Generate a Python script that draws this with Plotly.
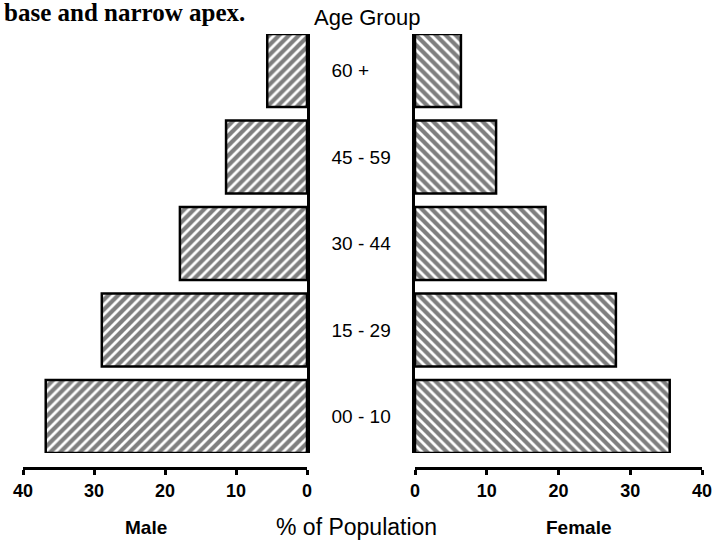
import plotly.graph_objects as go

age_groups = ["00 - 10", "15 - 29", "30 - 44", "45 - 59", "60 +"]
male = [36.8, 28.9, 17.9, 11.4, 5.6]
female = [35.5, 28.0, 18.2, 11.3, 6.4]
tick_vals = [0, 10, 20, 30, 40]
tick_text = ["0", "10", "20", "30", "40"]

W, H = 715, 540
bargap = 0.156
half = (1 - bargap) / 2

fig = go.Figure()
fig.add_trace(go.Bar(
    y=age_groups, x=male, orientation="h", xaxis="x", yaxis="y",
    marker=dict(color="white", line=dict(color="black", width=2.5),
                pattern=dict(shape="/", size=7, solidity=0.6, fgcolor="black", bgcolor="white")),
    showlegend=False, hoverinfo="skip"))
fig.add_trace(go.Bar(
    y=age_groups, x=female, orientation="h", xaxis="x2", yaxis="y2",
    marker=dict(color="white", line=dict(color="black", width=2.5),
                pattern=dict(shape="\\", size=7, solidity=0.6, fgcolor="black", bgcolor="white")),
    showlegend=False, hoverinfo="skip"))

tickfont = dict(family="Liberation Sans, Arial", size=18, color="black", weight="bold")
ydom = [1 - 453 / H, 1 - 34 / H]
xpos = 1 - 468 / H

common_x = dict(showgrid=False, zeroline=False, showline=True, linecolor="black", linewidth=3,
                ticks="outside", ticklen=5, tickwidth=3, tickcolor="black",
                tickvals=tick_vals, ticktext=tick_text, tickfont=tickfont,
                anchor="free", position=xpos, automargin=False)

fig.update_layout(
    width=W, height=H, margin=dict(l=0, r=0, t=0, b=0, autoexpand=False),
    paper_bgcolor="white", plot_bgcolor="white", bargap=bargap,
    xaxis=dict(domain=[23 / W, 307 / W], range=[40, 0], **common_x),
    xaxis2=dict(domain=[415 / W, 702 / W], range=[0, 40], **common_x),
    yaxis=dict(domain=ydom, anchor="x", side="right", range=[-half, 4 + half],
               showgrid=False, zeroline=False, showline=True, linecolor="black", linewidth=2.5,
               ticks="", ticklabelstandoff=18, automargin=False,
               tickfont=dict(family="Liberation Sans, Arial", size=19, color="black")),
    yaxis2=dict(domain=ydom, anchor="x2", side="left", range=[-half, 4 + half],
                showgrid=False, zeroline=False, showline=True, linecolor="black", linewidth=2.5,
                showticklabels=False, ticks="", automargin=False),
    annotations=[
        dict(text="<b>base and narrow apex.</b>", x=2 / W, y=1 - 13 / H, xref="paper", yref="paper",
             xanchor="left", yanchor="middle", showarrow=False,
             font=dict(family="Liberation Serif, Times New Roman", size=25, color="black")),
        dict(text="Age Group", x=367 / W, y=1 - 18 / H, xref="paper", yref="paper",
             xanchor="center", yanchor="middle", showarrow=False,
             font=dict(family="Liberation Sans, Arial", size=22, color="black")),
        dict(text="<b>Male</b>", x=146 / W, y=1 - 527 / H, xref="paper", yref="paper",
             xanchor="center", yanchor="middle", showarrow=False,
             font=dict(family="Liberation Sans, Arial", size=19, color="black")),
        dict(text="% of Population", x=356 / W, y=1 - 527 / H, xref="paper", yref="paper",
             xanchor="center", yanchor="middle", showarrow=False,
             font=dict(family="Liberation Sans, Arial", size=23, color="black")),
        dict(text="<b>Female</b>", x=578 / W, y=1 - 527 / H, xref="paper", yref="paper",
             xanchor="center", yanchor="middle", showarrow=False,
             font=dict(family="Liberation Sans, Arial", size=19, color="black")),
    ],
)

fig.write_html("out.html", config={"displayModeBar": False},
               post_script="document.body.style.margin='0';document.body.style.overflow='hidden';")
